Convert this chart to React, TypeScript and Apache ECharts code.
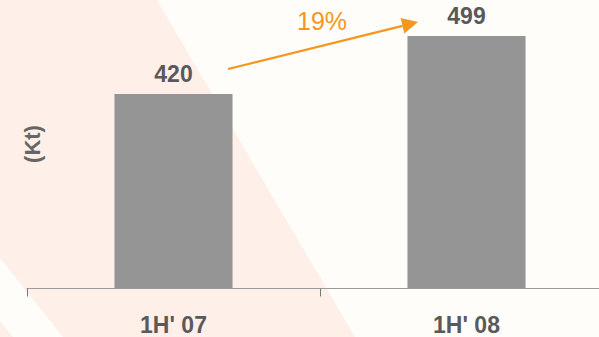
import React, { useEffect, useRef } from "react";
import * as echarts from "echarts";

const categories = ["1H' 07", "1H' 08"];
const values = [420, 499];
const growthLabel = "19%";
const unitLabel = "(Kt)";

const FONT = "Arial, 'Liberation Sans', sans-serif";
const ORANGE = "#f5961e";
const PEACH = "#fef0e8";

export default function App() {
  const ref = useRef<HTMLDivElement>(null);
  useEffect(() => {
    if (!ref.current) return;
    const chart = echarts.init(ref.current, undefined, { renderer: "svg" });
    const tip = [418, 22];
    const start = [228, 69];
    const dx = tip[0] - start[0];
    const dy = tip[1] - start[1];
    const len = Math.sqrt(dx * dx + dy * dy);
    const ux = dx / len;
    const uy = dy / len;
    const headLen = 16;
    const halfW = 8;
    const bx = tip[0] - headLen * ux;
    const by = tip[1] - headLen * uy;
    const px = -uy;
    const py = ux;
    chart.setOption({
      animation: false,
      backgroundColor: "#fffdf9",
      grid: {
        left: 27,
        top: 6,
        width: 586,
        bottom: 48.5,
        containLabel: false,
        outerBoundsMode: "none",
      },
      xAxis: {
        type: "category",
        data: categories,
        axisLine: { show: true, lineStyle: { color: "#9a9a9a", width: 1 } },
        axisTick: { show: true, length: 8, lineStyle: { color: "#777" } },
        axisLabel: {
          color: "#5a5a5a",
          fontFamily: FONT,
          fontWeight: "bold",
          fontSize: 23,
          margin: 25,
        },
        z: 5,
      },
      yAxis: {
        type: "value",
        min: 155,
        max: 540,
        show: false,
        splitLine: { show: false },
      },
      graphic: [
        {
          type: "polygon",
          z: -10,
          silent: true,
          shape: {
            points: [
              [0, 0],
              [157, 0],
              [355, 337],
              [63, 337],
              [0, 258],
            ],
          },
          style: { fill: PEACH },
        },
        {
          type: "polygon",
          z: -10,
          silent: true,
          shape: {
            points: [
              [0, 321],
              [13, 337],
              [0, 337],
            ],
          },
          style: { fill: PEACH },
        },
        {
          type: "text",
          x: 32.5,
          y: 144,
          rotation: Math.PI / 2,
          style: {
            text: unitLabel,
            fill: "#666",
            font: `bold 22px ${FONT}`,
            align: "center",
            verticalAlign: "middle",
          },
        },
        {
          type: "line",
          shape: { x1: start[0], y1: start[1], x2: bx, y2: by },
          style: { stroke: ORANGE, lineWidth: 2.2 },
        },
        {
          type: "polygon",
          shape: {
            points: [
              [tip[0], tip[1]],
              [bx + halfW * px, by + halfW * py],
              [bx - halfW * px, by - halfW * py],
            ],
          },
          style: { fill: ORANGE },
        },
        {
          type: "text",
          x: 322,
          y: 21,
          style: {
            text: growthLabel,
            fill: ORANGE,
            font: `25px ${FONT}`,
            align: "center",
            verticalAlign: "middle",
          },
        },
      ],
      series: [
        {
          type: "bar",
          data: values,
          barWidth: "40.3%",
          itemStyle: { color: "#959595" },
          label: {
            show: true,
            position: "top",
            distance: 9,
            color: "#595959",
            fontFamily: FONT,
            fontWeight: "bold",
            fontSize: 23,
          },
        },
      ],
    });
    return () => chart.dispose();
  }, []);
  return <div ref={ref} style={{ width: 599, height: 337, position: "absolute", left: 0, top: 0 }} />;
}
